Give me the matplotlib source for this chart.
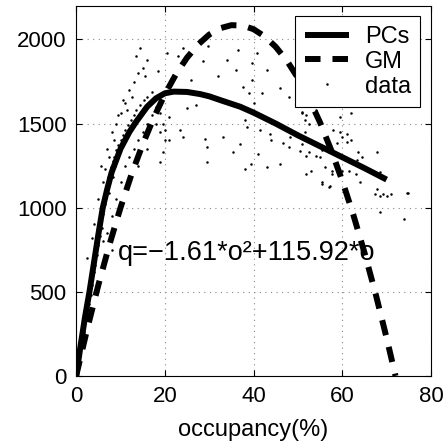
import matplotlib
matplotlib.use("Agg")
import matplotlib.pyplot as plt

plt.rcParams['font.family'] = ['Liberation Sans', 'DejaVu Sans']

# PCs curve
pcs_o = [0, 1, 2, 3, 4, 5, 6, 7, 8, 10, 12, 13.5, 16, 18, 20, 22, 25, 28, 30, 33, 37, 40, 45, 50, 55, 60, 65, 70]
pcs_q = [0, 180, 350, 500, 670, 840, 1000, 1110, 1210, 1350, 1450, 1510, 1600, 1650, 1680, 1690, 1688, 1675, 1662, 1635, 1600, 1565, 1500, 1430, 1365, 1300, 1235, 1167]

# GM curve
gm_o = [0, 2.5, 5, 7.5, 10, 12.5, 15, 17.5, 20, 22.5, 25, 27.5, 30, 32.5, 35, 37.5, 40, 42.5, 45, 47.5, 50, 52.5, 55, 57.5, 60, 62.5, 65, 67.5, 70, 72]
gm_q = [0, 280, 540, 780, 1000, 1200, 1376, 1535, 1674, 1793, 1892, 1970, 2029, 2067, 2085, 2083, 2061, 2018, 1956, 1874, 1771, 1648, 1506, 1342, 1160, 957, 733, 490, 225, 0]

# scattered data
data_o = [0.5, 0.8, 1.0, 1.2, 1.5, 1.7, 2.0, 2.2, 2.4, 2.6, 2.8, 3.0, 3.1, 3.3, 3.5, 3.6, 3.8, 4.0, 4.1, 4.3,
          4.5, 4.6, 4.8, 5.0, 5.1, 5.3, 5.5, 5.6, 5.8, 6.0, 6.1, 6.3, 6.5, 6.6, 6.8, 7.0, 7.1, 7.3, 7.5, 7.6,
          7.8, 8.0, 8.2, 8.3, 8.5, 8.7, 9.0, 9.2, 9.4, 9.6, 10.0, 10.2, 10.5, 10.8, 11.0, 11.3, 11.6, 12.0, 12.3, 12.6,
          13.0, 13.3, 13.6, 14.0, 14.4, 14.8, 15.2, 15.6, 16.0, 16.5, 17.0, 17.5,
          2.5, 3.5, 4.0, 5.0, 6.0, 5.5, 7.0, 8.0, 9.0, 10.0, 11.0, 12.0, 13.0, 14.0, 15.0, 14.5, 13.5, 12.5, 11.5, 10.5,
          9.5, 8.5, 7.5, 6.5,
          6, 7, 8, 9, 10, 11, 12, 13, 14, 15, 16, 17, 18, 19, 20, 8, 10, 12, 14, 16, 18, 19,
          16, 15.5, 20.5, 18.5, 24, 22.9, 28.6, 29.7, 34, 36, 36.5, 39.6, 26, 32, 37.6, 39,
          25, 27, 21, 23.4, 24, 21, 29.5, 29, 33, 35.4, 29.5, 38, 19.6, 19, 20, 19.6,
          45, 40.7, 43, 39.6, 42, 46, 48, 40, 38, 38.5, 41.4, 43.7, 44, 46.6, 48, 48.3, 49.8, 51, 51.8, 52.4,
          50.4, 51.8, 54, 55.5, 57, 58.8, 59.5, 61, 58, 62, 63.3, 64, 60, 57.7, 51.8, 45.9, 43, 39.4, 37, 41,
          56.5, 59.5,
          51, 51.5, 54, 59.5, 62, 60, 61, 63.5, 64.5, 67.8, 68.5, 55, 56, 53, 52.5, 57.6, 61.6, 63, 57, 55.4,
          67.8, 68.5, 70, 74.5, 51.6, 51,
          55.4, 57.3, 64, 67.3, 69.2, 71, 74.8, 68.5, 74]
data_q = [90, 160, 230, 190, 300, 260, 360, 420, 330, 470, 430, 520, 560, 480, 600, 540, 650, 620, 700, 660,
          760, 720, 800, 780, 860, 830, 900, 950, 880, 1000, 960, 1050, 1020, 1100, 1060, 1130, 1180, 1090, 1200, 1150,
          1240, 1210, 1280, 1180, 1300, 1250, 1340, 1290, 1370, 1320, 1400, 1360, 1430, 1390, 1460, 1420, 1490, 1450, 1520, 1480,
          1550, 1510, 1580, 1540, 1610, 1570, 1640, 1600, 1660, 1620, 1690, 1650,
          700, 820, 900, 1050, 1150, 1250, 1350, 1450, 1500, 1560, 1620, 1700, 1750, 1800, 1830, 1950, 1900, 1660, 1580, 1640,
          1550, 1400, 1300, 1230,
          800, 850, 950, 1050, 1150, 1250, 1300, 1350, 1400, 1450, 1500, 1550, 1500, 1450, 1400, 750, 1000, 1150, 1250, 1350, 1600, 1560,
          1880, 1780, 1920, 1810, 1950, 1900, 1870, 1960, 1880, 1820, 1940, 1860, 1760, 1780, 1720, 1680,
          1595, 1610, 1540, 1460, 1420, 1400, 1360, 1410, 1420, 1330, 1270, 1230, 1330, 1270, 1460, 1500,
          1960, 1920, 1820, 1760, 1680, 1710, 1660, 1620, 1520, 1480, 1460, 1440, 1400, 1385, 1360, 1420, 1445, 1570, 1550, 1500,
          1335, 1310, 1305, 1340, 1330, 1385, 1450, 1440, 1460, 1400, 1285, 1250, 1220, 1200, 1200, 1260, 1240, 1260, 1380, 1320,
          1620, 1670,
          1560, 1520, 1580, 1540, 1560, 1420, 1390, 1330, 1300, 1330, 1210, 1300, 1240, 1220, 1330, 1220, 1220, 1200, 1125, 1140,
          1110, 1070, 1070, 1090, 1450, 1380,
          1150, 1130, 1150, 1080, 1080, 1080, 1090, 975, 930]

x_ticks = [0, 20, 40, 60, 80]
y_ticks = [0, 500, 1000, 1500, 2000]

fig = plt.figure(figsize=(4.48, 4.48), dpi=100)
ax = fig.add_axes([0.170, 0.161, 0.792, 0.826])

ax.plot(pcs_o, pcs_q, color='black', linewidth=4.3, solid_capstyle='butt', label='PCs', zorder=3)
ax.plot(gm_o, gm_q, color='black', linewidth=4.3, linestyle=(0, (2.6, 2.0)), label='GM', zorder=3)
ax.plot(data_o, data_q, linestyle='none', marker='.', markersize=1.6, color='black', label='data', zorder=2)

ax.text(9.5, 730, 'q=\u22121.61*o\u00b2+115.92*o', fontsize=19.5, ha='left', va='center', zorder=4)

ax.set_xlim(0, 80)
ax.set_ylim(0, 2200)
ax.set_xticks(x_ticks)
ax.set_yticks(y_ticks)
ax.tick_params(direction='in', top=True, right=True, labelsize=16, length=4, width=0.8, pad=7)
ax.grid(True, linestyle=(0, (1, 4)), color='#888888', linewidth=0.8)
ax.set_axisbelow(True)
ax.set_xlabel('occupancy(%)', fontsize=17, labelpad=9)
for s in ax.spines.values():
    s.set_linewidth(0.8)

leg = ax.legend(loc='upper right', fontsize=17, handlelength=1.9, borderaxespad=0.45,
                fancybox=False, framealpha=1, edgecolor='black', labelspacing=0.12,
                borderpad=0.4, handletextpad=0.65, markerscale=1)
leg.get_frame().set_linewidth(0.8)

fig.savefig('out.png', dpi=100)
